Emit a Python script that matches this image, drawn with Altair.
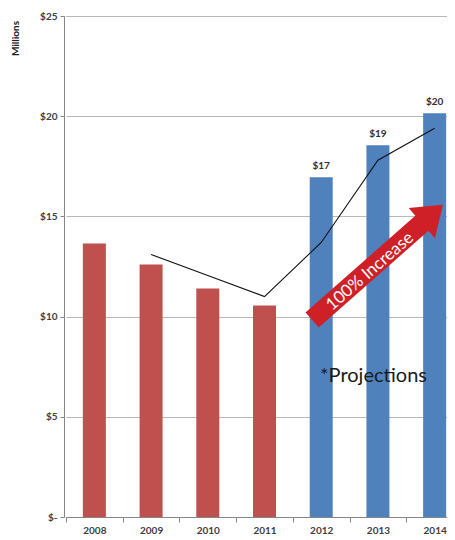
import altair as alt
import pandas as pd

years = ["2008", "2009", "2010", "2011", "2012", "2013", "2014"]
values = [13.65, 12.6, 11.4, 10.55, 16.95, 18.55, 20.15]
kinds = ["Actual", "Actual", "Actual", "Actual", "Projected", "Projected", "Projected"]

line_years = ["2009", "2010", "2011", "2012", "2013", "2014"]
line_values = [13.1, 12.05, 11.0, 13.7, 17.8, 19.4]

label_years = ["2012", "2013", "2014"]
label_texts = ["$17", "$19", "$20"]

# annotation positions in data units (x: category index scale 0..7, y: $ millions)
arrow_tail = [4.34, 9.83]
arrow_head = [6.46, 15.12]
arrow_text_pos = [5.36, 12.25]
arrow_text = "100% Increase"
proj_pos = [4.48, 7.04]
proj_text = "*Projections"

FONT = "Lato"
RANGE = [2, 399]

bars_df = pd.DataFrame({"year": years, "value": values, "kind": kinds})
line_df = pd.DataFrame({"year": line_years, "value": line_values})
lab_df = pd.DataFrame({
    "year": label_years,
    "text": label_texts,
    "value": [values[years.index(y)] for y in label_years],
})

yscale = alt.Scale(domain=[0, 25], nice=False)
xscale = alt.Scale(domain=years, range=RANGE, paddingInner=0, paddingOuter=0)

x_enc = alt.X("year:N", sort=years, scale=xscale, axis=alt.Axis(
    title=None, labelAngle=0, labelFont=FONT, labelFontSize=10, labelFontWeight="bold",
    labelColor="#404040", domainColor="#868686", tickColor="#868686", tickSize=5,
    tickBand="extent", labelPadding=3, grid=False))

y_axis = alt.Axis(
    values=[0, 5, 10, 15, 20, 25],
    labelExpr="datum.value == 0 ? '$-' : '$' + datum.value",
    labelFont=FONT, labelFontSize=10, labelFontWeight="bold", labelColor="#404040",
    domainColor="#868686", tickColor="#868686", tickSize=4, labelPadding=3,
    gridColor="#b8b8b8", gridWidth=1,
    title="Millions", titleFont=FONT, titleFontSize=10, titleFontWeight="bold",
    titleColor="#202020", titleAngle=270, titleX=-49, titleY=22,
    titleAlign="center", titleBaseline="middle")

bars = alt.Chart(bars_df).mark_bar(size=23).encode(
    x=x_enc,
    y=alt.Y("value:Q", scale=yscale, axis=y_axis),
    color=alt.Color("kind:N", scale=alt.Scale(domain=["Actual", "Projected"],
                                              range=["#c0504d", "#4f81bd"]), legend=None),
)

line = alt.Chart(line_df).mark_line(color="#111111", strokeWidth=1.1).encode(
    x=alt.X("year:N", sort=years, scale=xscale, axis=None),
    y=alt.Y("value:Q", scale=yscale),
)

labels = alt.Chart(lab_df).mark_text(
    dy=-11, font=FONT, fontSize=10, fontWeight="bold", color="#303030"
).encode(
    x=alt.X("year:N", sort=years, scale=xscale, axis=None),
    y=alt.Y("value:Q", scale=yscale),
    text="text:N",
)

qx = alt.Scale(domain=[0, 7], range=RANGE, nice=False, zero=False)

ann_df = pd.DataFrame({
    "x": [arrow_tail[0]], "y": [arrow_tail[1]],
    "x2": [arrow_head[0]], "y2": [arrow_head[1]],
})
shaft = alt.Chart(ann_df).mark_rule(color="#cf2027", strokeWidth=20, strokeCap="butt").encode(
    x=alt.X("x:Q", scale=qx, axis=None),
    y=alt.Y("y:Q", scale=yscale),
    x2="x2:Q", y2="y2:Q",
)

head_df = pd.DataFrame({"x": [arrow_head[0]], "y": [arrow_head[1]]})
head = alt.Chart(head_df).mark_point(
    shape="M -0.7 -1 L 0.7 0 L -0.7 1 Z", filled=True, size=1600, angle=319,
    color="#cf2027", opacity=1, strokeWidth=0,
).encode(
    x=alt.X("x:Q", scale=qx, axis=None),
    y=alt.Y("y:Q", scale=yscale),
)

atext_df = pd.DataFrame({"x": [arrow_text_pos[0]], "y": [arrow_text_pos[1]], "t": [arrow_text]})
atext = alt.Chart(atext_df).mark_text(
    angle=319, font=FONT, fontSize=17, color="white", align="center", baseline="middle"
).encode(
    x=alt.X("x:Q", scale=qx, axis=None),
    y=alt.Y("y:Q", scale=yscale),
    text="t:N",
)

proj_df = pd.DataFrame({"x": [proj_pos[0]], "y": [proj_pos[1]], "t": [proj_text]})
proj = alt.Chart(proj_df).mark_text(
    font=FONT, fontSize=20, color="#1a1a1a", align="left", baseline="middle"
).encode(
    x=alt.X("x:Q", scale=qx, axis=None),
    y=alt.Y("y:Q", scale=yscale),
    text="t:N",
)

chart = alt.layer(bars, line, labels, shaft, head, atext, proj).resolve_scale(
    x="independent"
).properties(
    width=383, height=501,
    autosize=alt.AutoSizeParams(type="none"),
    padding={"left": 56, "top": 8, "right": 0, "bottom": 20},
).configure_view(stroke=None).configure(background="white")

chart.save("out.html", embed_options={"renderer": "svg", "actions": False})
